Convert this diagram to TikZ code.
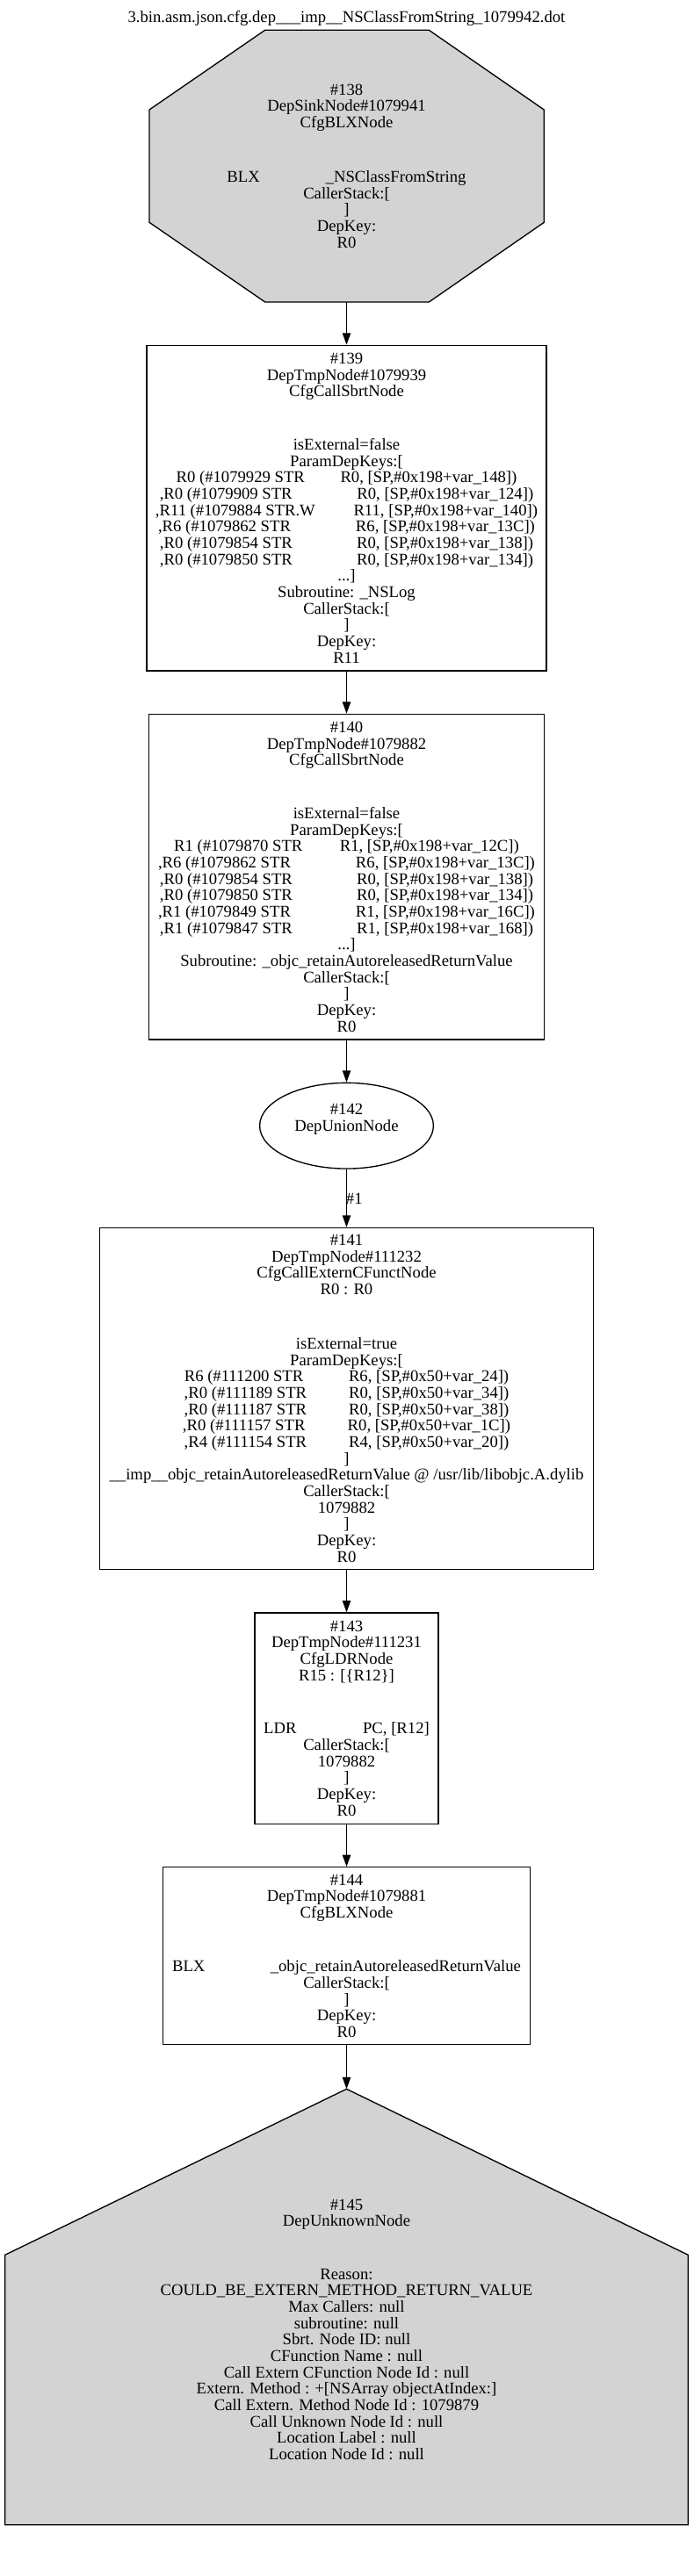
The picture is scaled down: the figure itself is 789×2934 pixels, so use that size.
\documentclass[tikz,border=0pt]{standalone}
\usepackage{fontspec}
\setmainfont{Liberation Serif}
\usetikzlibrary{arrows.meta,shapes.geometric}
\definecolor{lgray}{HTML}{D3D3D3}
\begin{document}
\begin{tikzpicture}[x=0.75pt,y=-0.75pt,
  txt/.style={font=\fontsize{14pt}{14pt}\selectfont, align=center, inner sep=0pt},
  box/.style={txt, draw=black, line width=1pt, rectangle},
  edge/.style={draw=black, line width=1pt, -{Triangle[length=10pt,width=7pt]}},
  shapeline/.style={draw=black, line width=1pt, fill=lgray}]
\useasboundingbox (0,0) rectangle (789,2934);

% title
\node[txt] (title) at (394.5,20.7) {3.bin.asm.json.cfg.dep\_\_\_imp\_\_NSClassFromString\_1079942.dot};

% #138 octagon
\path[shapeline] (301.7,34.3) -- (488.3,34.3) -- (619.3,125) -- (619.3,253.3) -- (488.3,344) -- (301.7,344) -- (170,253.3) -- (170,125) -- cycle;
\node[txt, minimum width=337pt, minimum height=232.3pt] (n138) at (394.5,189.2) {\#138\\DepSinkNode\#1079941\\CfgBLXNode\\[32.5pt]
BLX\hspace{56.25pt}\_NSClassFromString\\
CallerStack:[\\
]\\
DepKey:\\
R0};

% #139
\node[box, minimum width=341.25pt, minimum height=278pt] (n139) at (394.5,578.7) {\#139\\DepTmpNode\#1079939\\CfgCallSbrtNode\\[31.5pt]
isExternal=false\\
ParamDepKeys:[\\
R0 (\#1079929 STR\hspace{30.5pt}R0, [SP,\#0x198+var\_148])\\
,R0 (\#1079909 STR\hspace{55.3pt}R0, [SP,\#0x198+var\_124])\\
,R11 (\#1079884 STR.W\hspace{32.8pt}R11, [SP,\#0x198+var\_140])\\
,R6 (\#1079862 STR\hspace{55.5pt}R6, [SP,\#0x198+var\_13C])\\
,R0 (\#1079854 STR\hspace{55pt}R0, [SP,\#0x198+var\_138])\\
,R0 (\#1079850 STR\hspace{55pt}R0, [SP,\#0x198+var\_134])\\
...]\\
Subroutine: \_NSLog\\
CallerStack:[\\
]\\
DepKey:\\
R11};

% #140
\node[box, minimum width=337.3pt, minimum height=278pt] (n140) at (394.5,998.7) {\#140\\DepTmpNode\#1079882\\CfgCallSbrtNode\\[31.5pt]
isExternal=false\\
ParamDepKeys:[\\
R1 (\#1079870 STR\hspace{31.8pt}R1, [SP,\#0x198+var\_12C])\\
,R6 (\#1079862 STR\hspace{55.5pt}R6, [SP,\#0x198+var\_13C])\\
,R0 (\#1079854 STR\hspace{55pt}R0, [SP,\#0x198+var\_138])\\
,R0 (\#1079850 STR\hspace{55pt}R0, [SP,\#0x198+var\_134])\\
,R1 (\#1079849 STR\hspace{55.5pt}R1, [SP,\#0x198+var\_16C])\\
,R1 (\#1079847 STR\hspace{55pt}R1, [SP,\#0x198+var\_168])\\
...]\\
Subroutine: \_objc\_retainAutoreleasedReturnValue\\
CallerStack:[\\
]\\
DepKey:\\
R0};

% #142 ellipse
\node[txt, draw=black, line width=1pt, ellipse, minimum width=148.35pt, minimum height=73.3pt] (n142) at (394.5,1282.2) {\#142\\DepUnionNode\\\mbox{}};

% #141
\node[box, minimum width=421.8pt, minimum height=291.75pt] (n141) at (394.5,1592.8) {\#141\\DepTmpNode\#111232\\CfgCallExternCFunctNode\\R0 : R0\\[32.5pt]
isExternal=true\\
ParamDepKeys:[\\
R6 (\#111200 STR\hspace{38.8pt}R6, [SP,\#0x50+var\_24])\\
,R0 (\#111189 STR\hspace{36pt}R0, [SP,\#0x50+var\_34])\\
,R0 (\#111187 STR\hspace{36pt}R0, [SP,\#0x50+var\_38])\\
,R0 (\#111157 STR\hspace{36.2pt}R0, [SP,\#0x50+var\_1C])\\
,R4 (\#111154 STR\hspace{36pt}R4, [SP,\#0x50+var\_20])\\
]\\
\_\_imp\_\_objc\_retainAutoreleasedReturnValue @ /usr/lib/libobjc.A.dylib\\
CallerStack:[\\
1079882\\
]\\
DepKey:\\
R0};

% #143
\node[box, minimum width=156.75pt, minimum height=180.2pt] (n143) at (394.5,1957.2) {\#143\\DepTmpNode\#111231\\CfgLDRNode\\R15 : [\{R12\}]\\[31.5pt]
LDR\hspace{56.7pt}PC, [R12]\\
CallerStack:[\\
1079882\\
]\\
DepKey:\\
R0};

% #144
\node[box, minimum width=313.7pt, minimum height=151.5pt] (n144) at (394.5,2227.7) {\#144\\DepTmpNode\#1079881\\CfgBLXNode\\[32pt]
BLX\hspace{55.8pt}\_objc\_retainAutoreleasedReturnValue\\
CallerStack:[\\
]\\
DepKey:\\
R0};

% #145 house
\path[shapeline] (394.5,2379.3) -- (783.3,2568.3) -- (783.3,2875.7) -- (5.7,2875.7) -- (5.7,2568.3) -- cycle;
\coordinate (n145top) at (394.5,2379.3);
\node[txt] (n145) at (394.5,2653.3) {\#145\\DepUnknownNode\\[31.2pt]
Reason:\\
COULD\_BE\_EXTERN\_METHOD\_RETURN\_VALUE\\
Max Callers: null\\
subroutine: null\\
Sbrt. Node ID: null\\
CFunction Name : null\\
Call Extern CFunction Node Id : null\\
Extern. Method : +[NSArray objectAtIndex:]\\
Call Extern. Method Node Id : 1079879\\
Call Unknown Node Id : null\\
Location Label : null\\
Location Node Id : null};

% edges
\draw[edge] (n138.south) -- (n139.north);
\draw[edge] (n139.south) -- (n140.north);
\draw[edge] (n140.south) -- (n142.north);
\draw[edge] (n142.south) -- (n141.north);
\node[txt] (lbl1) at (403.3,1365) {\#1};
\draw[edge] (n141.south) -- (n143.north);
\draw[edge] (n143.south) -- (n144.north);
\draw[edge] (n144.south) -- (n145top);
\end{tikzpicture}
\end{document}
